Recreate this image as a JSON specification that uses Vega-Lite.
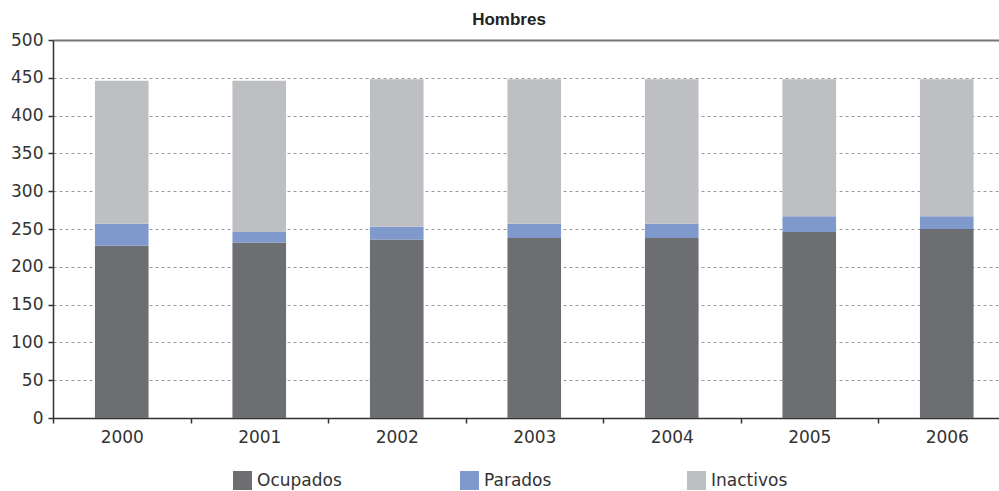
{
  "$schema": "https://vega.github.io/schema/vega-lite/v6.json",
  "autosize": {"type": "none"},
  "width": 946,
  "height": 378,
  "padding": {"left": 53, "top": 40, "right": 0, "bottom": 73},
  "background": "white",
  "title": {"text": "Hombres", "font": "Liberation Sans", "fontSize": 17, "fontWeight": "bold", "color": "#222", "anchor": "middle", "frame": "group", "dx": -17, "offset": 2},
  "config": {"view": {"stroke": null}, "font": "DejaVu Sans"},
  "data": {"values": [
    {"anio": "2000", "serie": "Ocupados", "valor": 228},
    {"anio": "2000", "serie": "Parados", "valor": 29},
    {"anio": "2000", "serie": "Inactivos", "valor": 189},
    {"anio": "2001", "serie": "Ocupados", "valor": 232},
    {"anio": "2001", "serie": "Parados", "valor": 14},
    {"anio": "2001", "serie": "Inactivos", "valor": 200},
    {"anio": "2002", "serie": "Ocupados", "valor": 236},
    {"anio": "2002", "serie": "Parados", "valor": 17},
    {"anio": "2002", "serie": "Inactivos", "valor": 195},
    {"anio": "2003", "serie": "Ocupados", "valor": 238},
    {"anio": "2003", "serie": "Parados", "valor": 19},
    {"anio": "2003", "serie": "Inactivos", "valor": 191},
    {"anio": "2004", "serie": "Ocupados", "valor": 238},
    {"anio": "2004", "serie": "Parados", "valor": 19},
    {"anio": "2004", "serie": "Inactivos", "valor": 191},
    {"anio": "2005", "serie": "Ocupados", "valor": 246},
    {"anio": "2005", "serie": "Parados", "valor": 21},
    {"anio": "2005", "serie": "Inactivos", "valor": 181},
    {"anio": "2006", "serie": "Ocupados", "valor": 250},
    {"anio": "2006", "serie": "Parados", "valor": 17},
    {"anio": "2006", "serie": "Inactivos", "valor": 181}
  ]},
  "transform": [
    {"calculate": "indexof(['Ocupados','Parados','Inactivos'], datum.serie)", "as": "orden"}
  ],
  "mark": {"type": "bar", "width": {"band": 0.39}},
  "encoding": {
    "x": {
      "field": "anio", "type": "nominal",
      "scale": {"range": [0, 962.5], "paddingInner": 0, "paddingOuter": 0},
      "axis": {
        "title": null, "labelAngle": 0, "tickBand": "extent",
        "domainColor": "#333", "domainWidth": 1.5,
        "tickColor": "#333", "tickSize": 5, "tickWidth": 1.5,
        "labelFont": "DejaVu Sans", "labelFontSize": 17, "labelColor": "#333", "labelPadding": 6
      }
    },
    "y": {
      "field": "valor", "type": "quantitative", "stack": "zero",
      "scale": {"domain": [0, 500], "nice": false},
      "axis": {
        "title": null, "values": [0, 50, 100, 150, 200, 250, 300, 350, 400, 450, 500],
        "domainColor": "#333", "domainWidth": 1.5,
        "tickColor": "#333", "tickSize": 5, "tickWidth": 1.5,
        "grid": true,
        "gridColor": {"condition": {"test": "datum.value === 500", "value": "#777"}, "value": "#9a9a9a"},
        "gridDash": {"condition": {"test": "datum.value === 500", "value": []}, "value": [3, 3]},
        "gridWidth": {"condition": {"test": "datum.value === 500", "value": 2}, "value": 1},
        "labelFont": "DejaVu Sans", "labelFontSize": 17, "labelColor": "#333", "labelPadding": 5
      }
    },
    "color": {
      "field": "serie", "type": "nominal",
      "scale": {"domain": ["Ocupados", "Parados", "Inactivos"], "range": ["#6d6e72", "#7f99cc", "#bebfc3"]},
      "legend": {
        "title": null, "orient": "none", "direction": "horizontal",
        "legendX": 180, "legendY": 431,
        "symbolType": "square", "symbolSize": 361, "symbolStrokeWidth": 0, "symbolOpacity": 1,
        "labelFont": "DejaVu Sans", "labelFontSize": 17, "labelColor": "#333", "labelOffset": 5,
        "gridAlign": "all", "columnPadding": 118
      }
    },
    "order": {"field": "orden", "type": "quantitative"}
  }
}
